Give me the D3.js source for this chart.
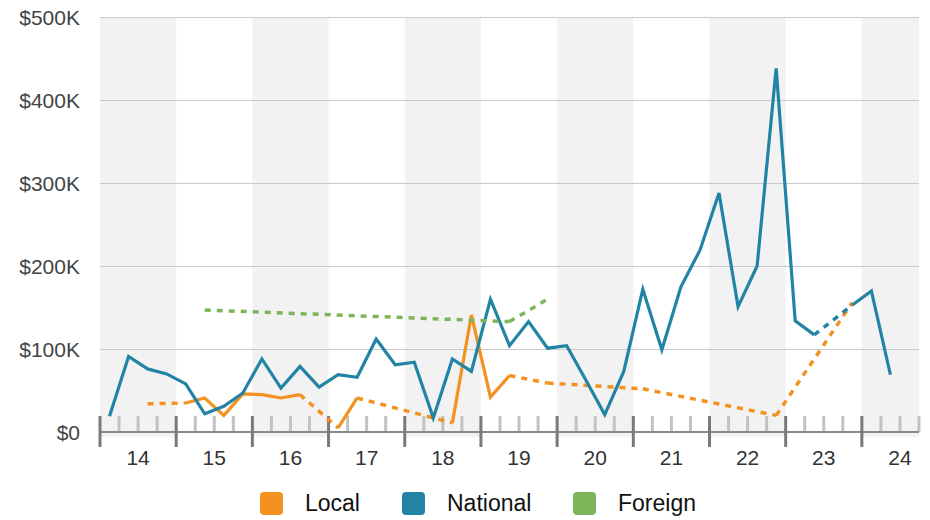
<!DOCTYPE html>
<html>
<head>
<meta charset="utf-8">
<script src="https://cdn.jsdelivr.net/npm/d3@7"></script>
<style>
  body { margin: 0; background: #fff; }
  svg { display: block; font-family: "Liberation Sans", Arial, Helvetica, sans-serif; }
</style>
</head>
<body>
<svg id="chart" width="930" height="520"></svg>
<script>
// Quarterly spending, 2014 Q1 – 2024 Q3 (values in $K; null = no data that quarter)
const quarters = [
  "2014 Q1","2014 Q2","2014 Q3","2014 Q4",
  "2015 Q1","2015 Q2","2015 Q3","2015 Q4",
  "2016 Q1","2016 Q2","2016 Q3","2016 Q4",
  "2017 Q1","2017 Q2","2017 Q3","2017 Q4",
  "2018 Q1","2018 Q2","2018 Q3","2018 Q4",
  "2019 Q1","2019 Q2","2019 Q3","2019 Q4",
  "2020 Q1","2020 Q2","2020 Q3","2020 Q4",
  "2021 Q1","2021 Q2","2021 Q3","2021 Q4",
  "2022 Q1","2022 Q2","2022 Q3","2022 Q4",
  "2023 Q1","2023 Q2","2023 Q3","2023 Q4",
  "2024 Q1","2024 Q2","2024 Q3"
];
const yearLabels = ["14","15","16","17","18","19","20","21","22","23","24"];

const localValues = [
  null, null, 34, null,
  35, 41, 20, 46,
  45, 41, 45, null,
  5, 41, null, null,
  null, null, 11, 141,
  42, 68, null, 59,
  null, null, null, null,
  52, null, null, null,
  null, null, null, 20,
  null, null, null, 156,
  null, null, null
];
const nationalValues = [
  19, 91, 76, 70,
  58, 22, 31, 47,
  88, 53, 79, 54,
  69, 66, 112, 81,
  84, 17, 88, 73,
  160, 104, 133, 101,
  104, 63, 21, 73,
  172, 99, 175, 219,
  288, 151, 200, 438,
  134, 117, null, 153,
  170, 69, null
];
const foreignValues = [
  null, null, null, null,
  null, 147, null, null,
  null, null, null, null,
  null, null, null, null,
  null, null, null, null,
  null, 133, null, 160,
  null, null, null, null,
  null, null, null, null,
  null, null, null, null,
  null, null, null, null,
  null, null, null
];
const yTickValues = [0, 100, 200, 300, 400, 500];
const seriesNames = ["Local", "National", "Foreign"];

// ---- drawing ----
const palette = { Local: "#f39121", National: "#2284a5", Foreign: "#7cb55a" };
const series = [
  { name: "Local", values: localValues },
  { name: "National", values: nationalValues },
  { name: "Foreign", values: foreignValues }
];

const svg = d3.select("#chart");
const plot = { left: 100, right: 919, top: 17, bottom: 432 };

const x = d3.scaleLinear().domain([0, quarters.length]).range([plot.left, plot.right]);
const y = d3.scaleLinear().domain([0, 500]).range([plot.bottom, plot.top]);

// alternating year bands
const years = yearLabels.map((label, k) => ({ label, start: 4 * k, end: Math.min(4 * k + 4, quarters.length) }));
svg.append("g").selectAll("rect")
  .data(years.filter((d, k) => k % 2 === 0))
  .join("rect")
  .attr("x", d => x(d.start))
  .attr("width", d => x(d.end) - x(d.start))
  .attr("y", plot.top)
  .attr("height", 437 - plot.top)
  .attr("fill", "#f2f2f2");

// horizontal gridlines + dollar labels
const yAxis = d3.axisLeft(y)
  .tickValues(yTickValues)
  .tickSize(-(plot.right - plot.left))
  .tickPadding(20)
  .tickFormat(d => d === 0 ? "$0" : `$${d}K`);
const gy = svg.append("g").attr("transform", `translate(${plot.left},0)`).call(yAxis);
gy.select(".domain").remove();
gy.selectAll(".tick line").attr("stroke", "#c9c9c9").attr("stroke-width", 1)
  .filter(d => d === 0).remove();
gy.selectAll(".tick text")
  .attr("font-size", 21).attr("fill", "#444").attr("dy", "0.38em")
  .attr("font-family", null);

// quarter ticks (minor), year ticks (major), baseline
const minorTicks = d3.range(0, quarters.length + 1).filter(i => i % 4 !== 0);
svg.append("g").selectAll("line")
  .data(minorTicks).join("line")
  .attr("x1", d => x(d)).attr("x2", d => x(d))
  .attr("y1", 416).attr("y2", plot.bottom)
  .attr("stroke", "#c2c2c2").attr("stroke-width", 3);

svg.append("line")
  .attr("x1", x(0)).attr("x2", x(quarters.length))
  .attr("y1", plot.bottom).attr("y2", plot.bottom)
  .attr("stroke", "#8a8a8a").attr("stroke-width", 2);

svg.append("g").selectAll("line")
  .data(years.map(d => d.start)).join("line")
  .attr("x1", d => x(d)).attr("x2", d => x(d))
  .attr("y1", 416).attr("y2", 447)
  .attr("stroke", "#7a7a7a").attr("stroke-width", 3);

svg.append("g").selectAll("text")
  .data(years).join("text")
  .attr("x", d => x(d.start + 2))
  .attr("y", 465)
  .attr("text-anchor", "middle")
  .attr("font-size", 21)
  .attr("fill", "#333")
  .text(d => d.label);

// series lines: solid where consecutive quarters exist, dashed across missing quarters
const line = d3.line()
  .defined(d => d.v != null)
  .x(d => x(d.i + 0.5))
  .y(d => y(d.v));

const linesG = svg.append("g");
series.forEach(s => {
  const pts = s.values.map((v, i) => ({ i, v }));
  const present = pts.filter(d => d.v != null);
  const gaps = d3.pairs(present).filter(([a, b]) => b.i - a.i > 1);

  linesG.append("g").selectAll("path")
    .data(gaps).join("path")
    .attr("d", d => line(d))
    .attr("fill", "none")
    .attr("stroke", palette[s.name])
    .attr("stroke-width", 3.5)
    .attr("stroke-dasharray", "6,6");

  linesG.append("path")
    .datum(pts)
    .attr("d", line)
    .attr("fill", "none")
    .attr("stroke", palette[s.name])
    .attr("stroke-width", 3.2)
    .attr("stroke-linejoin", "miter");
});

// legend
const legendX = [260, 402, 573];
const legend = svg.append("g").selectAll("g")
  .data(seriesNames).join("g")
  .attr("transform", (d, k) => `translate(${legendX[k]},492)`);
legend.append("rect")
  .attr("width", 23).attr("height", 23).attr("rx", 4)
  .attr("fill", d => palette[d]);
legend.append("text")
  .attr("x", 45).attr("y", 19)
  .attr("font-size", 23)
  .attr("fill", "#111")
  .text(d => d);
</script>
</body>
</html>
